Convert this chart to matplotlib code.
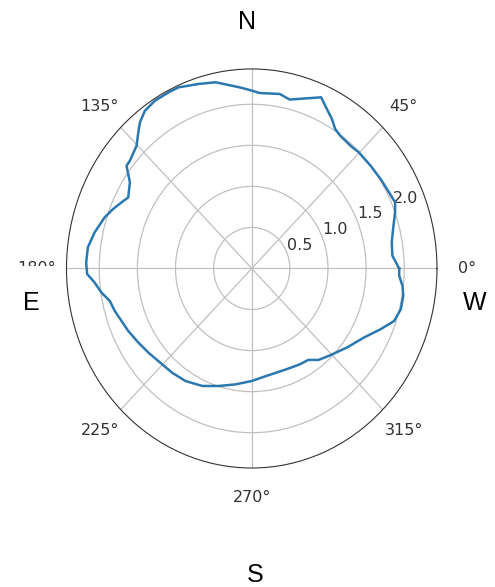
import numpy as np
import matplotlib.pyplot as plt

# Radial profile sampled around the full circle (angle in degrees, radius)
angulos = [0.0, 4.8, 9.8, 14.5, 20.0, 23.2, 27.2, 32.8, 38.8, 45.2, 49.1, 54.3,
           57.2, 60.0, 63.1, 66.4, 76.4, 80.2, 87.3, 90.0, 94.2, 101.8, 107.1,
           113.5, 116.9, 121.8, 126.1, 129.5, 131.9, 135.3, 140.6, 142.7, 146.7,
           151.9, 154.8, 158.3, 162.1, 168.0, 173.2, 178.1, 181.8, 184.7, 188.4,
           191.9, 196.0, 200.5, 205.1, 211.2, 217.1, 223.7, 230.5, 237.6, 245.6,
           253.3, 261.6, 270.0, 278.3, 290.3, 298.4, 303.7, 308.1, 314.2, 322.4,
           330.2, 336.4, 341.1, 345.8, 350.5, 353.9, 357.4, 360.0]
radios = [1.934, 1.852, 1.864, 1.915, 2.001, 2.046, 2.026, 2.011, 1.999, 1.993,
          1.978, 1.991, 2.021, 2.103, 2.178, 2.275, 2.117, 2.157, 2.140, 2.167,
          2.213, 2.317, 2.352, 2.406, 2.407, 2.406, 2.378, 2.306, 2.228, 2.125,
          2.068, 2.065, 1.912, 1.837, 1.889, 1.958, 2.027, 2.108, 2.165, 2.173,
          2.160, 2.069, 1.995, 1.904, 1.870, 1.824, 1.790, 1.740, 1.699, 1.660,
          1.644, 1.623, 1.571, 1.494, 1.426, 1.370, 1.323, 1.309, 1.327, 1.338,
          1.416, 1.475, 1.577, 1.694, 1.846, 1.974, 2.018, 2.015, 1.989, 1.936,
          1.934]

grados_ticks = [0, 45, 90, 135, 180, 225, 270, 315]
# the 90 deg label sits under the N marker, so it is left blank
etiquetas_ticks = ['0°', '45°', '', '135°', '180°', '225°', '270°', '315°']
puntos_cardinales = ['N', 'E', 'W', 'S']
radio_max = 2.43

fig = plt.figure(figsize=(4.95, 5.87), dpi=100)
ax = fig.add_axes([0.1343, 0.2027, 0.7485, 0.6798], projection='polar')
ax.set_aspect('auto')

ax.plot(np.deg2rad(angulos), radios, color='#2b78b0', linewidth=1.8)
ax.set_rmax(radio_max)
ax.set_rticks([0.5, 1.0, 1.5, 2.0])
ax.set_thetagrids(grados_ticks, etiquetas_ticks)
ax.tick_params(axis='x', pad=11, labelsize=11.5, colors='#333333')
ax.tick_params(axis='y', labelsize=11.5, colors='#333333')
ax.grid(color='#c0c0c0', linewidth=0.9)
ax.spines['polar'].set_color('#333333')

# Compass labels around the plot
fuente = dict(fontsize=18, family='Liberation Sans', ha='center', va='center')
fig.text(0.499, 0.9625, puntos_cardinales[0], **fuente)
fig.text(0.0626, 0.4838, puntos_cardinales[1],
         bbox=dict(facecolor='white', edgecolor='none', boxstyle='square,pad=1.0'),
         **fuente)
fig.text(0.9596, 0.4838, puntos_cardinales[2], **fuente)
fig.text(0.515, 0.021, puntos_cardinales[3], **fuente)

fig.savefig('out.png', dpi=100)
